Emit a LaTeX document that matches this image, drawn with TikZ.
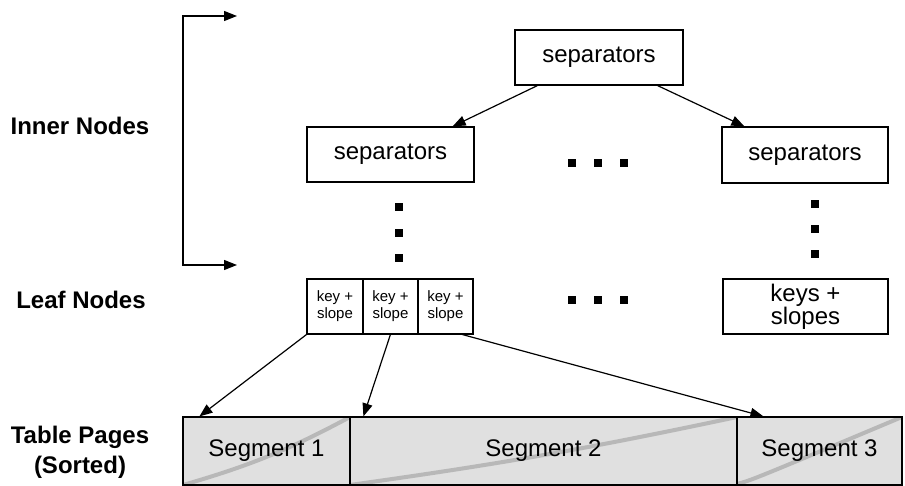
\documentclass[tikz,border=0pt]{standalone}
\usepackage{fontspec}
\setmainfont{Liberation Sans}
\usetikzlibrary{arrows.meta,calc}
\definecolor{segfill}{HTML}{E0E0E0}
\definecolor{seggrey}{HTML}{B8B8B8}
\tikzset{
  box/.style={draw, line width=1.2pt, inner sep=0pt, align=center,
    font=\fontsize{24}{24}\selectfont},
  smallbox/.style={draw, line width=1.2pt, inner sep=0pt, align=center,
    minimum width=55pt, minimum height=55pt,
    font=\fontsize{15}{17}\selectfont},
  dotsq/.style={fill=black, inner sep=0pt, minimum size=8pt},
  arr/.style={line width=1.2pt, -{Triangle[length=13pt,width=10pt]}},
  lbl/.style={font=\fontsize{24}{30}\selectfont\bfseries, align=center},
  segbox/.style={draw, line width=1.2pt, fill=segfill, inner sep=0pt,
    minimum height=68pt, font=\fontsize{24}{24}\selectfont},
}
\begin{document}
\begin{tikzpicture}[x=1pt,y=-1pt]
\useasboundingbox (0,0) rectangle (905,486);

% labels
\node[lbl] (linner) at (80,126) {Inner Nodes};
\node[lbl] (lleaf) at (81,300) {Leaf Nodes};
\node[lbl] (ltable) at (80,452) {Table Pages\\(Sorted)};

% bracket
\coordinate (btop) at (237,16);
\coordinate (bc1) at (183,16);
\coordinate (bc2) at (183,265);
\coordinate (bbot) at (237,265);
\draw[line width=1.2pt, {Triangle[length=13pt,width=10pt]}-{Triangle[length=13pt,width=10pt]}]
  (btop) -- (bc1) -- (bc2) -- (bbot);

% inner nodes
\node[box, minimum width=168pt, minimum height=55pt] (top) at (599,57.5) {separators};
\node[box, minimum width=167pt, minimum height=55pt] (lsep) at (390.5,154.5) {separators};
\node[box, minimum width=166pt, minimum height=56pt] (rsep) at (805,155) {separators};

\draw[arr] ([xshift=23pt]top.south west) -- ([xshift=-22pt]lsep.north east);
\draw[arr] ([xshift=-26pt]top.south east) -- ([xshift=23pt]rsep.north west);

% dots
\node[dotsq] (h1) at (572,163) {};
\node[dotsq] (h2) at (598,163) {};
\node[dotsq] (h3) at (624,163) {};
\node[dotsq] (v1) at (399,207) {};
\node[dotsq] (v2) at (399,233) {};
\node[dotsq] (v3) at (399,258) {};
\node[dotsq] (w1) at (815,204) {};
\node[dotsq] (w2) at (815,229) {};
\node[dotsq] (w3) at (815,254) {};
\node[dotsq] (g1) at (572,300) {};
\node[dotsq] (g2) at (598,300) {};
\node[dotsq] (g3) at (624,300) {};

% leaf nodes
\node[smallbox, minimum width=56pt] (l1) at (335,306.5) {key +\\slope};
\node[smallbox] (l2) at (390.5,306.5) {key +\\slope};
\node[smallbox] (l3) at (445.5,306.5) {key +\\slope};
\node[box, minimum width=165pt, minimum height=55pt, font=\fontsize{24}{23}\selectfont] (rleaf) at (805.5,306.5) {keys +\\slopes};

% table pages
\node[segbox, minimum width=167pt,
  path picture={\draw[seggrey, line width=4pt] (path picture bounding box.south west) to[bend right=6] (path picture bounding box.north east);}]
  (s1) at (266.5,451) {Segment 1};
\node[segbox, minimum width=387pt,
  path picture={\draw[seggrey, line width=4pt] (path picture bounding box.south west) to[bend right=2] (path picture bounding box.north east);}]
  (s2) at (543.5,451) {Segment 2};
\node[segbox, minimum width=165pt,
  path picture={\draw[seggrey, line width=4pt] ([yshift=1pt]path picture bounding box.south west) .. controls ($(path picture bounding box.south west)+(15,-5)$) .. (path picture bounding box.north east);}]
  (s3) at (819.5,451) {Segment 3};

\draw[arr] (l1.south west) -- ([xshift=17pt]s1.north west);
\draw[arr] ([xshift=28pt]l2.south west) -- ([xshift=14pt]s2.north west);
\draw[arr] ([xshift=-11pt]l3.south east) -- ([xshift=27pt]s3.north west);
\end{tikzpicture}
\end{document}
